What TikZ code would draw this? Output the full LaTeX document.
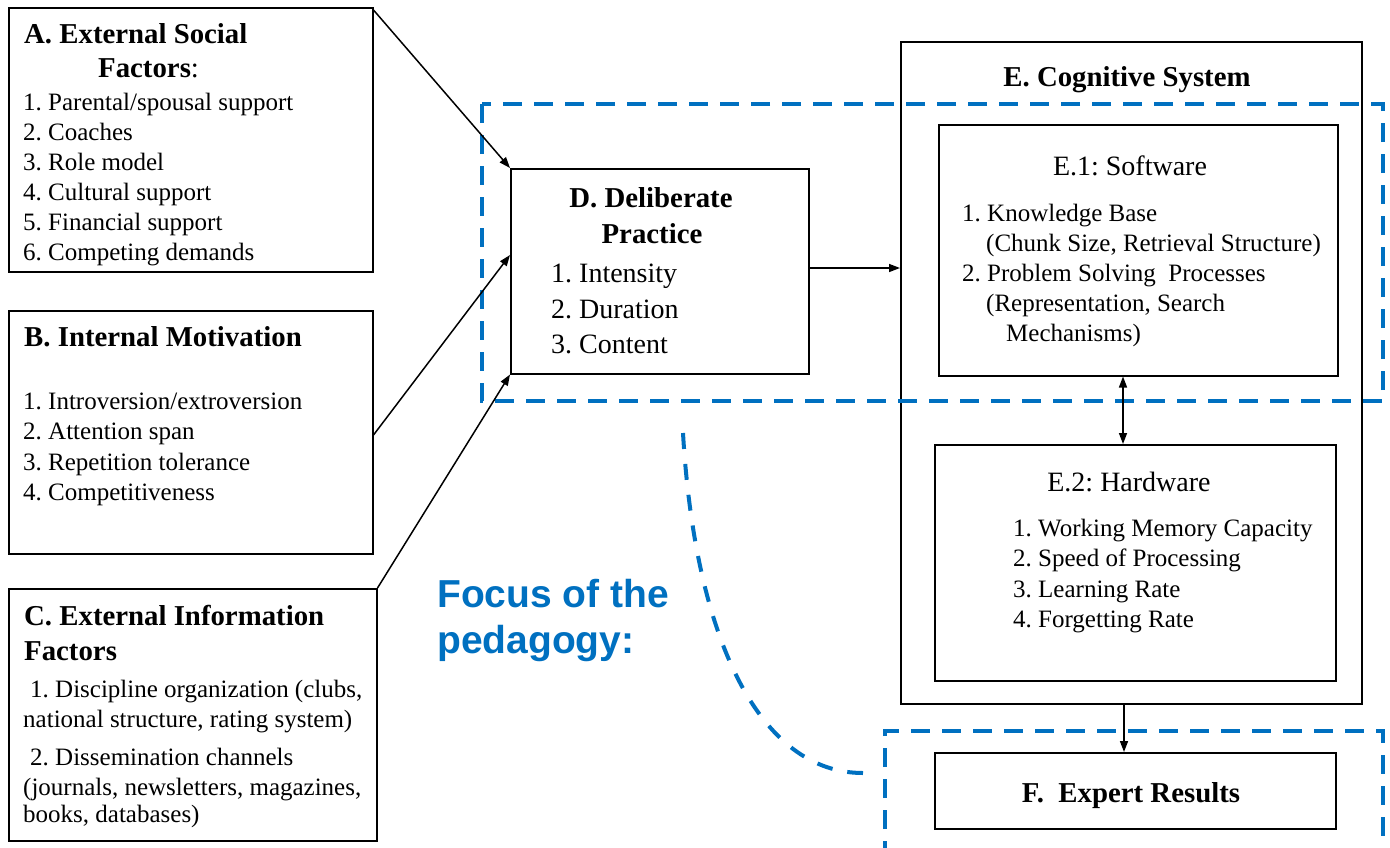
\documentclass[tikz,border=0pt]{standalone}
\usepackage{fontspec}
\setmainfont{Liberation Serif}
\newfontfamily\focusfont{Liberation Sans}
\usetikzlibrary{arrows.meta,calc}
\definecolor{focusblue}{RGB}{0,112,192}
\frenchspacing
\tikzset{
  box/.style={draw, line width=1.5pt, inner sep=0pt, anchor=north west},
  txt/.style={anchor=base west, inner sep=0pt, font=\fontsize{25}{30}\selectfont},
  bigtxt/.style={anchor=base west, inner sep=0pt, font=\fontsize{28}{34}\selectfont},
  ttl/.style={anchor=base west, inner sep=0pt, font=\fontsize{28.8}{34}\selectfont\bfseries},
  ttlc/.style={anchor=base, inner sep=0pt, font=\fontsize{28.8}{34}\selectfont\bfseries},
  subttl/.style={anchor=base, inner sep=0pt, font=\fontsize{28}{34}\selectfont},
  arr/.style={-{Triangle[length=11pt,width=8pt]}, line width=1.5pt},
  darr/.style={{Triangle[length=11pt,width=8pt]}-{Triangle[length=11pt,width=8pt]}, line width=1.5pt},
  focus/.style={draw=focusblue, line width=4pt, dash pattern=on 19pt off 12pt},
  focuscurve/.style={draw=focusblue, line width=4pt, dash pattern=on 16pt off 15pt},
  focustxt/.style={anchor=base west, inner sep=0pt, text=focusblue, font=\focusfont\fontsize{39}{47}\selectfont\bfseries}
}
\begin{document}
\frenchspacing
\begin{tikzpicture}[x=1pt,y=-1pt]
\useasboundingbox (0,0) rectangle (1390,847);
\clip (0,0) rectangle (1390,847);

% boxes
\node[box, minimum width=364pt, minimum height=264pt] (A) at (8,7) {};
\node[box, minimum width=364pt, minimum height=243pt] (B) at (8,310) {};
\node[box, minimum width=368pt, minimum height=252pt] (C) at (8,588) {};
\node[box, minimum width=298pt, minimum height=205pt] (D) at (510,168) {};
\node[box, minimum width=461pt, minimum height=662pt] (E) at (900,41) {};
\node[box, minimum width=399pt, minimum height=251pt] (E1) at (938,124) {};
\node[box, minimum width=401pt, minimum height=236pt] (E2) at (934,444) {};
\node[box, minimum width=401pt, minimum height=76pt] (F) at (934,752) {};

% A texts
\node[ttl] (at1) at (24,43) {A. External Social};
\node[ttl] (at2) at (98,77) {Factors\textmd{:}};
\node[txt] (a1) at (23,110) {1. Parental/spousal support};
\node[txt] (a2) at (23,140) {2. Coaches};
\node[txt] (a3) at (23,170) {3. Role model};
\node[txt] (a4) at (23,200) {4. Cultural support};
\node[txt] (a5) at (23,230) {5. Financial support};
\node[txt] (a6) at (23,260) {6. Competing demands};

% B texts
\node[ttl] (bt) at (24,346) {B. Internal Motivation};
\node[txt] (b1) at (23,409) {1. Introversion/extroversion};
\node[txt] (b2) at (23,439) {2. Attention span};
\node[txt] (b3) at (23,470) {3. Repetition tolerance};
\node[txt] (b4) at (23,500) {4. Competitiveness};

% C texts
\node[ttl] (ct1) at (24,625) {C. External Information};
\node[ttl] (ct2) at (24,660) {Factors};
\node[txt] (c1) at (30,697) {1. Discipline organization (clubs,};
\node[txt] (c2) at (23,727) {national structure, rating system)};
\node[txt] (c3) at (30,765) {2. Dissemination channels};
\node[txt] (c4) at (23,795) {(journals, newsletters, magazines,};
\node[txt] (c5) at (23,822) {books, databases)};

% D texts
\node[ttlc] (dt1) at (651,207) {D. Deliberate};
\node[ttlc] (dt2) at (652,243) {Practice};
\node[bigtxt] (d1) at (551,282) {1. Intensity};
\node[bigtxt] (d2) at (551,318) {2. Duration};
\node[bigtxt] (d3) at (551,353) {3. Content};

% E texts
\node[ttlc] (et) at (1127,86) {E. Cognitive System};
\node[subttl] (e1t) at (1130,175) {E.1: Software};
\node[txt] (e11) at (962,221) {1. Knowledge Base};
\node[txt] (e12) at (986,251) {(Chunk Size, Retrieval Structure)};
\node[txt] (e13) at (962,281) {2. Problem Solving\ \ Processes};
\node[txt] (e14) at (986,311) {(Representation, Search};
\node[txt] (e15) at (1006,341) {Mechanisms)};
\node[subttl] (e2t) at (1129,491) {E.2: Hardware};
\node[txt] (e21) at (1013,536) {1. Working Memory Capacity};
\node[txt] (e22) at (1013,566) {2. Speed of Processing};
\node[txt] (e23) at (1013,597) {3. Learning Rate};
\node[txt] (e24) at (1013,627) {4. Forgetting Rate};

% F text
\node[ttlc] (ft) at (1131,802) {F.\ \ Expert Results};

% focus text
\node[focustxt] (fo1) at (437,607) {Focus of the};
\node[focustxt] (fo2) at (437,653) {pedagogy:};

% focus dashed outlines
\draw[focus] (482,104) rectangle (1383,401);
\draw[focus] (885,860) -- (885,731) -- (1383,731) -- (1383,860);
\coordinate (cs) at (683,433);
\coordinate (ce) at (863,773);
\draw[focuscurve] (cs) .. controls (695,640) and (760,773) .. (ce);

% connectors
\coordinate (ax) at (1123,0);
\coordinate (bx) at (1124,0);
\draw[arr] ($(A.north east)+(0,3)$) -- (D.north west);
\draw[arr] ($(B.north east)+(0,125)$) -- ($(D.north west)+(0,87)$);
\draw[arr] (C.north east) -- (D.south west);
\draw[arr] ($(D.north east)+(0,100)$) -- ($(E.north west)+(0,227)$);
\draw[darr] (E1.south -| ax) -- (E2.north -| ax);
\draw[arr] (E.south -| bx) -- (F.north -| bx);
\end{tikzpicture}
\end{document}
